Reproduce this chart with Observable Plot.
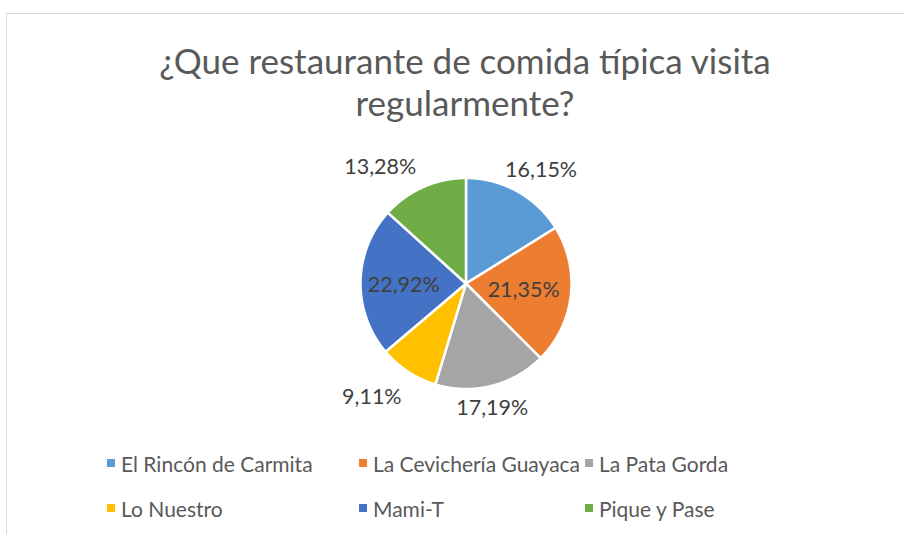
<!DOCTYPE html>
<html><head><meta charset="utf-8">
<script src="https://cdn.jsdelivr.net/npm/d3@7"></script>
<script src="https://cdn.jsdelivr.net/npm/@observablehq/plot@0.6"></script>
<style>
body{margin:0;background:#fff;}
#wrap{position:relative;width:904px;height:534px;overflow:hidden;font-family:Lato,"Open Sans",sans-serif;}
#frame{position:absolute;left:6px;top:13px;width:1000px;height:1000px;border:1px solid #d9d9d9;box-sizing:border-box;}
#title{position:absolute;left:0;width:930px;top:39px;text-align:center;font-size:35px;color:#595959;line-height:42px;}
#chart{position:absolute;left:0;top:0;}
#legend{position:absolute;left:107px;top:450px;display:grid;grid-template-columns:252px 226px 200px;grid-auto-rows:45px;font-size:21px;color:#595959;}
#legend .item{display:flex;align-items:center;height:26px;white-space:nowrap;}
#legend .sw{width:8px;height:8px;margin-right:6px;}
</style></head>
<body>
<div id="wrap">
<div id="frame"></div>
<div id="title">¿Que restaurante de comida típica visita<br>regularmente?</div>
<div id="chart"></div>
<div id="legend"></div>
</div>
<script>
const categories = ["El Rincón de Carmita","La Cevichería Guayaca","La Pata Gorda","Lo Nuestro","Mami-T","Pique y Pase"];
const values = [16.15, 21.35, 17.19, 9.11, 22.92, 13.28];
const colors = ["#5B9BD5","#ED7D31","#A5A5A5","#FFC000","#4472C4","#70AD47"];
// label placement (style): radius factor and nudges
const labelRadius = [1.27, 0.55, 1.22, 1.35, 0.59, 1.35];
const labelDx = [10, 0, -5, -16, 0, -28];
const labelDy = [4, 0, 0, -5, 3, 14];

const total = d3.sum(values);
const fmt = v => v.toFixed(2).replace(".", ",") + "%";
const slices = [];
const labelData = [];
let cum = 0;
values.forEach((v, i) => {
  const a0 = cum / total * 2 * Math.PI;
  cum += v;
  const a1 = cum / total * 2 * Math.PI;
  const name = categories[i];
  slices.push({name, x: 0, y: 0});
  const n = Math.max(2, Math.ceil((a1 - a0) / 0.005));
  for (let k = 0; k <= n; k++) {
    const a = a0 + (a1 - a0) * k / n;
    slices.push({name, x: Math.sin(a), y: Math.cos(a)});
  }
  slices.push({name, x: 0, y: 0});
  const am = (a0 + a1) / 2;
  labelData.push({name, text: fmt(v), x: labelRadius[i] * Math.sin(am), y: labelRadius[i] * Math.cos(am), dx: labelDx[i], dy: labelDy[i]});
});

const cx = 465.5, cy = 283, r = 105.5;
const chart = Plot.plot({
  width: 904, height: 534, margin: 0,
  x: {domain: [-1, 1], range: [cx - r, cx + r], axis: null},
  y: {domain: [-1, 1], range: [cy + r, cy - r], axis: null},
  color: {domain: categories, range: colors},
  style: {background: "transparent", fontFamily: "Lato, 'Open Sans', sans-serif"},
  marks: [
    Plot.line(slices, {x: "x", y: "y", z: "name", fill: "name", stroke: "white", strokeWidth: 2.5, strokeLinejoin: "round", curve: "linear"}),
    ...labelData.map(d => Plot.text([d], {x: "x", y: "y", text: "text", dx: d.dx, dy: d.dy, fontSize: 21.5, fill: "#404040"}))
  ]
});
document.getElementById("chart").appendChild(chart);

const legend = document.getElementById("legend");
categories.forEach((c, i) => {
  const it = document.createElement("div");
  it.className = "item";
  it.innerHTML = `<span class="sw" style="background:${colors[i]}"></span><span>${c}</span>`;
  legend.appendChild(it);
});
</script>
</body></html>
